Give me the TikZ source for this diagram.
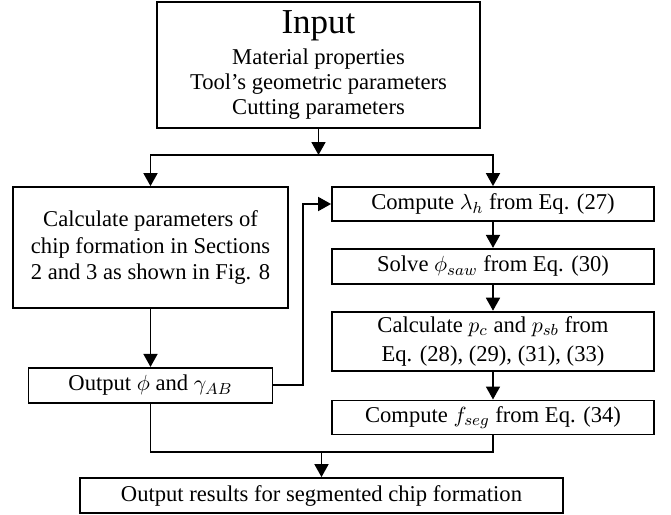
\documentclass[tikz,border=0pt]{standalone}
\usepackage{fontspec}
\setmainfont{Liberation Serif}
\usetikzlibrary{positioning,arrows.meta}

\begin{document}
\begin{tikzpicture}[
        line width=0.9pt,
        >={Triangle[length=6.5pt,width=7pt]},
        box/.style={draw, rectangle, align=center, inner sep=0pt, font=\fontsize{11.3}{13.25}\selectfont},
        node distance=13pt
    ]
        \useasboundingbox (0,0) rectangle (335.5pt,-257.5pt);

        \node (input) [box, font=\fontsize{11.3}{12.5}\selectfont, minimum width=161.5pt, minimum height=63pt]
            at (159.25pt,-32.5pt)
            {{\fontsize{17.5}{17.5}\selectfont Input}\\[3.35pt]
             Material properties\\ Tool's geometric parameters\\ Cutting parameters};

        % left branch
        \node (calc) [box, minimum width=137.5pt, minimum height=60.5pt] at (75.25pt,-123.75pt)
            {Calculate parameters of\\ chip formation in Sections\\ 2 and 3 as shown in Fig. 8};
        \node (outphi) [box, below=29pt of calc, minimum width=122pt, minimum height=17.5pt]
            {Output $\phi$ and $\gamma_{AB}$};

        % right branch
        \node (lambda) [box, minimum width=161pt, minimum height=17pt] at (246.5pt,-102pt)
            {Compute $\lambda_h$ from Eq. (27)};
        \node (solve) [box, below=of lambda, minimum width=161pt, minimum height=17.5pt]
            {Solve $\phi_{saw}$ from Eq. (30)};
        \node (pcalc) [box, below=of solve, minimum width=161pt, minimum height=29.5pt]
            {Calculate $p_c$ and $p_{sb}$ from\\[1.25pt] Eq. (28), (29), (31), (33)};
        \node (fseg) [box, below=14pt of pcalc, minimum width=161pt, minimum height=17pt]
            {Compute $f_{seg}$ from Eq. (34)};

        \node (result) [box, minimum width=241.5pt, minimum height=17.5pt] at (160.75pt,-247.75pt)
            {Output results for segmented chip formation};

        \coordinate (split) at (0,-77.5pt);
        \coordinate (merge) at (0,-226pt);
        \coordinate (back) at (151.5pt,0);

        \draw[->] (input) -- (input |- split);
        \draw[->] (input |- split) -| (calc);
        \draw[->] (input |- split) -| (lambda);
        \draw[->] (calc) -- (outphi);
        \draw[->] (outphi) -| (back |- lambda) -- (lambda);
        \draw[->] (lambda) -- (solve);
        \draw[->] (solve) -- (pcalc);
        \draw[->] (pcalc) -- (fseg);
        \draw (outphi) |- (result |- merge);
        \draw (fseg) |- (result |- merge);
        \draw[->] (result |- merge) -- (result);
    \end{tikzpicture}
\end{document}
